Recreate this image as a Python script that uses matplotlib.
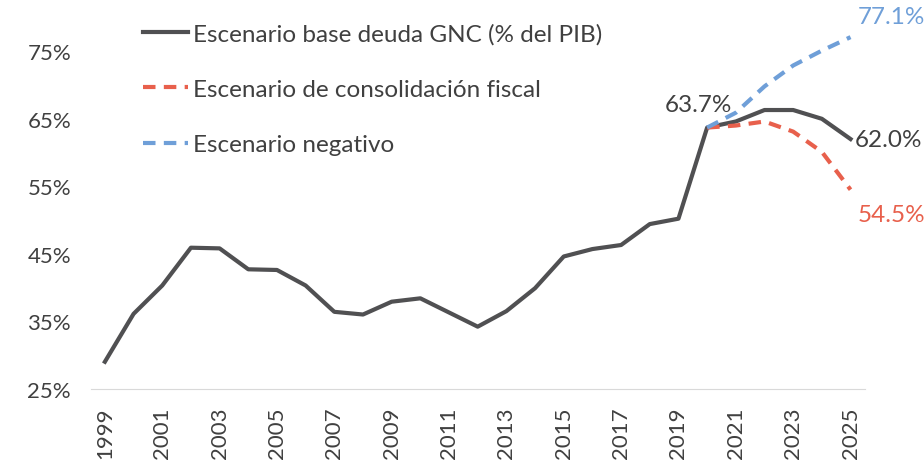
import numpy as np
import matplotlib
matplotlib.use("Agg")
from matplotlib import pyplot as plt

plt.rcParams['font.family'] = ['Lato', 'DejaVu Sans']

years = list(range(1999, 2026))
base = [29.0, 36.1, 40.3, 45.9, 45.8, 42.7, 42.6, 40.3, 36.4, 36.0,
        37.9, 38.4, 36.3, 34.2, 36.5, 39.9, 44.6, 45.7, 46.3, 49.4,
        50.2, 63.7, 64.6, 66.3, 66.3, 65.0, 62.0]
proj_years = list(range(2020, 2026))
consolidacion = [63.7, 64.0, 64.6, 63.1, 60.1, 54.5]
negativo = [63.7, 65.9, 69.8, 72.9, 75.1, 77.1]

c_base = '#505052'
c_red = '#e8604c'
c_blue = '#6f9fd8'
c_text = '#404040'

fig = plt.figure(figsize=(9.24, 4.64), dpi=100)
ax = fig.add_axes([0.098, 0.16, 0.838, 0.80])

ax.plot(years, base, color=c_base, lw=3, label='Escenario base deuda GNC (% del PIB)')
ax.plot(proj_years, consolidacion, color=c_red, lw=3, ls=(0, (3, 2)),
        label='Escenario de consolidación fiscal')
ax.plot(proj_years, negativo, color=c_blue, lw=3, ls=(0, (3, 2)),
        label='Escenario negativo')

ax.set_xlim(1998.5, 2025.5)
ax.set_ylim(25, 80)
ax.set_yticks([25, 35, 45, 55, 65, 75])
ax.set_yticklabels(['25%', '35%', '45%', '55%', '65%', '75%'])
ax.set_xticks(years[::2])
ax.set_xticklabels([str(y) for y in years[::2]], rotation=90)
ax.tick_params(length=0, labelsize=16, colors=c_text)
ax.tick_params(axis='x', pad=13)
ax.tick_params(axis='y', pad=14)

for s in ['top', 'right', 'left']:
    ax.spines[s].set_visible(False)
ax.spines['bottom'].set_color('#d9d9d9')

ax.annotate('63.7%', (2020, base[21]), xytext=(-6, 9), textcoords='offset points',
            ha='center', va='bottom', fontsize=17.5, color=c_text)
ax.annotate('62.0%', (2025, base[-1]), xytext=(3, 0), textcoords='offset points',
            ha='left', va='center', fontsize=17.5, color=c_text)
ax.annotate('77.1%', (2025, negativo[-1]), xytext=(5, 7), textcoords='offset points',
            ha='left', va='bottom', fontsize=17.5, color=c_blue)
ax.annotate('54.5%', (2025, consolidacion[-1]), xytext=(5, -10), textcoords='offset points',
            ha='left', va='top', fontsize=17.5, color=c_red)

leg = ax.legend(loc='upper left', bbox_to_anchor=(0.04, 1.045), frameon=False,
                fontsize=17.5, labelspacing=1.42, handlelength=1.85, handletextpad=0.2)
for t in leg.get_texts():
    t.set_color(c_text)

fig.savefig('out.png', dpi=100)
